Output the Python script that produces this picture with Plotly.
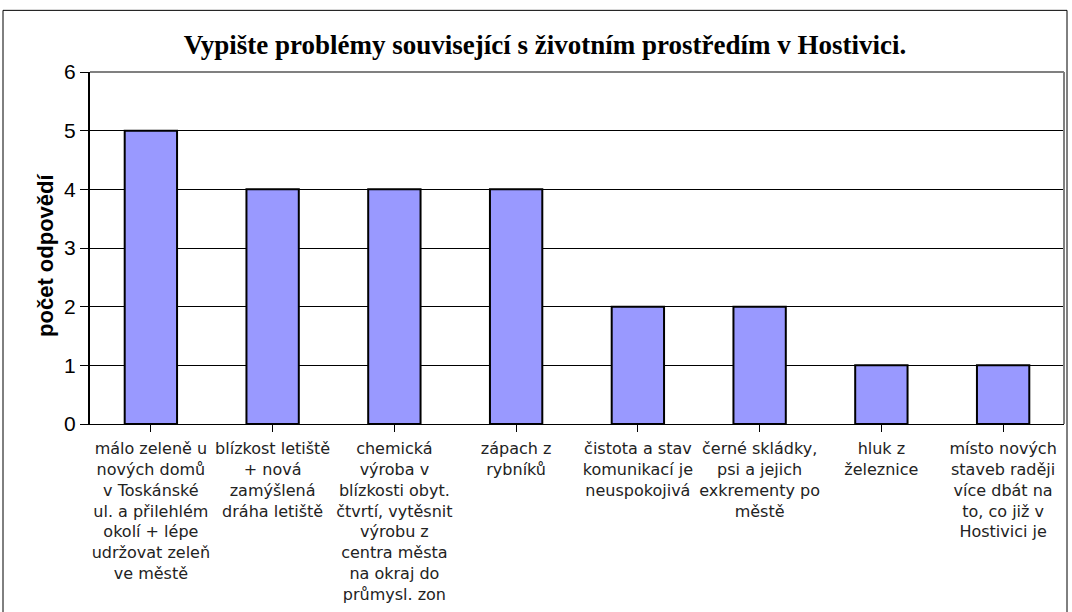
import plotly.graph_objects as go

categories = [
    "málo zeleně u<br>nových domů<br>v Toskánské<br>ul. a přilehlém<br>okolí + lépe<br>udržovat zeleň<br>ve městě",
    "blízkost letiště<br>+ nová<br>zamýšlená<br>dráha letiště",
    "chemická<br>výroba v<br>blízkosti obyt.<br>čtvrtí, vytěsnit<br>výrobu z<br>centra města<br>na okraj do<br>průmysl. zon",
    "zápach z<br>rybníků",
    "čistota a stav<br>komunikací je<br>neuspokojivá",
    "černé skládky,<br>psi a jejich<br>exkrementy po<br>městě",
    "hluk z<br>železnice",
    "místo nových<br>staveb raději<br>více dbát na<br>to, co již v<br>Hostivici je",
]
values = [5, 4, 4, 4, 2, 2, 1, 1]
y_ticks = [0, 1, 2, 3, 4, 5, 6]
y_title = "počet odpovědí"

L, R, T, B = 90, 8, 72, 186
W, H = 1072, 612
pw, ph = W - L - R, H - T - B

fig = go.Figure()
fig.add_trace(go.Bar(
    x=list(range(len(categories))),
    y=values,
    width=0.43,
    marker=dict(color="#9999FF", line=dict(color="black", width=2)),
))

fig.update_layout(
    width=W, height=H,
    margin=dict(l=L, r=R, t=T, b=B),
    paper_bgcolor="white", plot_bgcolor="white",
    showlegend=False,
    title=dict(
        text="<b>Vypište problémy související s životním prostředím v Hostivici.</b>",
        x=(545 - L) / pw, xref="paper", xanchor="center", y=1 - 45 / H, yanchor="middle",
        font=dict(family="Liberation Serif, Times New Roman, serif", size=27, color="black"),
    ),
    font=dict(family="DejaVu Sans, Liberation Sans, Arial, sans-serif", color="#222222"),
)

fig.update_xaxes(
    tickmode="array",
    tickvals=list(range(len(categories))),
    ticktext=categories,
    range=[-0.5, len(categories) - 0.5],
    tickangle=0,
    ticks="outside", ticklen=7, tickcolor="black", tickwidth=1,
    tickson="boundaries",
    ticklabelstandoff=3,
    showline=True, linecolor="black", linewidth=1,
    showgrid=False,
    tickfont=dict(size=16, color="#222222"),
)

fig.update_yaxes(
    range=[0, 6],
    tickmode="array", tickvals=y_ticks,
    ticks="outside", ticklen=8, tickcolor="black", tickwidth=1,
    showline=True, linecolor="black", linewidth=2,
    showgrid=True, gridcolor="black", gridwidth=1,
    tickfont=dict(family="Liberation Sans, Arial, sans-serif", size=21, color="black"),
    zeroline=False,
)

fig.add_annotation(
    text=f"<b>{y_title}</b>", textangle=-90,
    xref="paper", yref="paper",
    x=(46 - L) / pw, y=(H - B - 257) / ph,
    xanchor="center", yanchor="middle", showarrow=False,
    font=dict(family="Liberation Sans, Arial, sans-serif", size=22, color="black"),
)

# plot-area border (top and right) in gray
fig.add_shape(type="line", xref="paper", yref="paper", x0=0, x1=1, y0=1, y1=1,
              line=dict(color="#808080", width=2), layer="above")
fig.add_shape(type="line", xref="paper", yref="paper", x0=1, x1=1, y0=0, y1=1,
              line=dict(color="#808080", width=2), layer="above")
# outer chart frame
fig.add_shape(type="rect", xref="paper", yref="paper",
              x0=(3 - L) / pw, x1=(1067 - L) / pw,
              y0=(H - B - 640) / ph, y1=(H - B - 10) / ph,
              line=dict(color="black", width=1), layer="below")

fig.write_html("out.html", config={"displayModeBar": False},
               post_script="document.body.style.margin='0';")
